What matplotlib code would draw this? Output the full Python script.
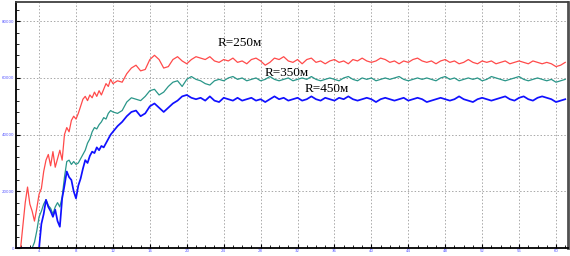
import matplotlib
matplotlib.use("Agg")
import matplotlib.pyplot as plt
from matplotlib.ticker import MultipleLocator

# time grid (fine steps at the start, coarser after 12)
t = [1.5, 1.75, 2.0, 2.25, 2.5, 2.75, 3.0, 3.25, 3.5, 3.75, 4.0, 4.25, 4.5, 4.75,
     5.0, 5.25, 5.5, 5.75, 6.0, 6.25, 6.5, 6.75, 7.0, 7.25, 7.5, 7.75, 8.0, 8.25,
     8.5, 8.75, 9.0, 9.25, 9.5, 9.75, 10.0, 10.25, 10.5, 10.75, 11.0, 11.25, 11.5,
     11.75, 12.0,
     12.5, 13.0, 13.5, 14.0, 14.5, 15.0, 15.5, 16.0, 16.5, 17.0, 17.5, 18.0, 18.5,
     19.0, 19.5, 20.0, 20.5, 21.0, 21.5, 22.0, 22.5, 23.0, 23.5, 24.0, 24.5, 25.0,
     25.5, 26.0, 26.5, 27.0, 27.5, 28.0, 28.5, 29.0, 29.5, 30.0, 30.5, 31.0, 31.5,
     32.0, 32.5, 33.0, 33.5, 34.0, 34.5, 35.0, 35.5, 36.0, 36.5, 37.0, 37.5, 38.0,
     38.5, 39.0, 39.5, 40.0, 40.5, 41.0, 41.5, 42.0, 42.5, 43.0, 43.5, 44.0, 44.5,
     45.0, 45.5, 46.0, 46.5, 47.0, 47.5, 48.0, 48.5, 49.0, 49.5, 50.0, 50.5, 51.0,
     51.5, 52.0, 52.5, 53.0, 53.5, 54.0, 54.5, 55.0, 55.5, 56.0, 56.5, 57.0, 57.5,
     58.0, 58.5, 59.0, 59.5, 60.0, 60.5, 61.0]

r250 = [0, 0, 0, 8000, 16000, 21500, 15500, 13000, 9500, 14000, 19000, 21000, 27000,
        31000, 33000, 29000, 34000, 28500, 31500, 34500, 31000, 40000, 42500, 41000,
        45000, 46500, 45500, 47500, 50000, 52500, 53500, 52000, 54000, 53000, 55000,
        53500, 55500, 54000, 56000, 58000, 57000, 59500, 58000,
        59000, 58500, 61500, 63500, 64500, 62500, 63000, 66500, 68000, 66500, 63500,
        64000, 66500, 67500, 66000, 65000, 66500, 67500, 67000, 66500, 67500, 66000,
        65500, 66500, 66000, 67000, 65500, 66000, 65000, 66500, 67000, 66000, 64500,
        65500, 67000, 66500, 67500, 66000, 65500, 66500, 65000, 66500, 67000, 65500,
        66000, 65000, 66000, 66500, 65500, 66000, 65000, 66500, 66000, 67000, 66000,
        65500, 66000, 67000, 66500, 65500, 66000, 65000, 66000, 65500, 66500, 67000,
        66000, 65500, 66000, 65000, 66000, 66500, 65500, 66000, 65000, 65500, 66500,
        65500, 65000, 66000, 65500, 66000, 65000, 65500, 66000, 65000, 65500, 66000,
        65500, 65000, 66000, 65500, 65000, 65500, 65000, 64000, 64500, 65500]

r350 = [0, 0, 0, 0, 0, 0, 0, 0, 2000, 6000, 11000, 13000, 15500, 17000, 15000, 14000,
        12000, 14500, 16000, 14500, 18000, 25000, 30500, 31000, 29500, 30500, 29500,
        30000, 31500, 33000, 34500, 37000, 38500, 41000, 42500, 42000, 43500, 44500,
        46000, 45500, 47500, 48500, 48000,
        47500, 48500, 51500, 53000, 52500, 52000, 53500, 55500, 56000, 54000, 55000,
        57000, 58500, 59000, 57000, 59500, 60500, 59500, 59000, 58000, 57500, 59000,
        59500, 59000, 60000, 60500, 59500, 60000, 59000, 59500, 60000, 59000, 59500,
        60500, 59500, 59000, 59500, 60000, 59000, 59500, 60000, 59500, 60500, 59500,
        59000, 59500, 60000, 59500, 59000, 60000, 60500, 59500, 59000, 60000, 59500,
        60000, 59000, 59500, 60000, 59500, 60000, 60500, 59500, 59000, 59500, 60000,
        59500, 60000, 59500, 59000, 60000, 60500, 59500, 60000, 59000, 59500, 60000,
        59500, 60000, 59000, 59500, 60500, 60000, 59500, 59000, 59500, 60000, 60500,
        59500, 59000, 59500, 60000, 59500, 59000, 59500, 58500, 59000, 59500]

r450 = [0, 0, 0, 0, 0, 0, 0, 0, 0, 0, 0, 8500, 12000, 17000, 14500, 13000, 11000,
        13500, 9500, 7500, 17500, 22000, 27000, 25000, 24000, 20000, 17500, 22000,
        24500, 28000, 31000, 30000, 32500, 34000, 33500, 35500, 34500, 36000, 35500,
        37000, 38500, 40000, 41000,
        43000, 44500, 46500, 48000, 48500, 46500, 47500, 50000, 51000, 49500, 48000,
        49500, 51000, 52000, 53500, 54000, 53000, 52500, 53000, 52000, 53500, 52000,
        51500, 53000, 52500, 52000, 53000, 52000, 52500, 53000, 52000, 52500, 51500,
        52500, 53500, 52500, 53000, 52000, 52500, 53000, 52000, 52500, 53500, 52500,
        52000, 53000, 52500, 52000, 53000, 52500, 53500, 52500, 52000, 52500, 53000,
        52500, 51500, 52500, 53000, 52500, 52000, 52500, 53000, 52000, 52500, 53000,
        52500, 51500, 52000, 52500, 53000, 52500, 52000, 52500, 53500, 52500, 52000,
        51500, 52500, 53000, 52500, 52000, 52500, 53000, 53500, 52500, 52000, 53000,
        53500, 52500, 52000, 53000, 53500, 53000, 52500, 51500, 52000, 52500]

x_ticks = [4, 8, 12, 16, 20, 24, 28, 32, 36, 40, 44, 48, 52, 56, 60]
y_ticks = [0, 20000, 40000, 60000, 80000]

fig = plt.figure(figsize=(5.70, 2.56), dpi=100)
ax = fig.add_axes([16 / 570, 8 / 256, 552 / 570, 246 / 256])

ax.plot(t, r250, color="#ff4a4a", lw=0.9)
ax.plot(t, r350, color="#2a9689", lw=0.9)
ax.plot(t, r450, color="#1010ff", lw=1.25)

ax.set_xlim(1.5, 61.3)
ax.set_ylim(0, 86800)
ax.set_xticks(x_ticks)
ax.set_yticks(y_ticks)
ax.xaxis.set_minor_locator(MultipleLocator(1))
ax.yaxis.set_minor_locator(MultipleLocator(4000))
ax.tick_params(which="both", direction="in", colors="black", labelcolor="#5555ff",
               labelsize=2.8, pad=1)
ax.tick_params(which="major", length=3, width=0.8)
ax.tick_params(which="minor", length=2, width=0.6)
ax.grid(True, which="major", linestyle=(0, (1.5, 2)), color="#a8a8a8", lw=0.7)

for side in ["left", "bottom"]:
    ax.spines[side].set_linewidth(1.3)
    ax.spines[side].set_color("black")
ax.spines["top"].set_linewidth(1.3)
ax.spines["top"].set_color("#404040")
ax.spines["right"].set_linewidth(2)
ax.spines["right"].set_color("#505050")

font = dict(family="Liberation Serif", fontsize=9.5, color="black", va="center")
ax.text(23.3, 72300, "R=250м", **font)
ax.text(28.4, 61800, "R=350м", **font)
ax.text(32.8, 56000, "R=450м", **font)

fig.savefig("out.png", dpi=100)
